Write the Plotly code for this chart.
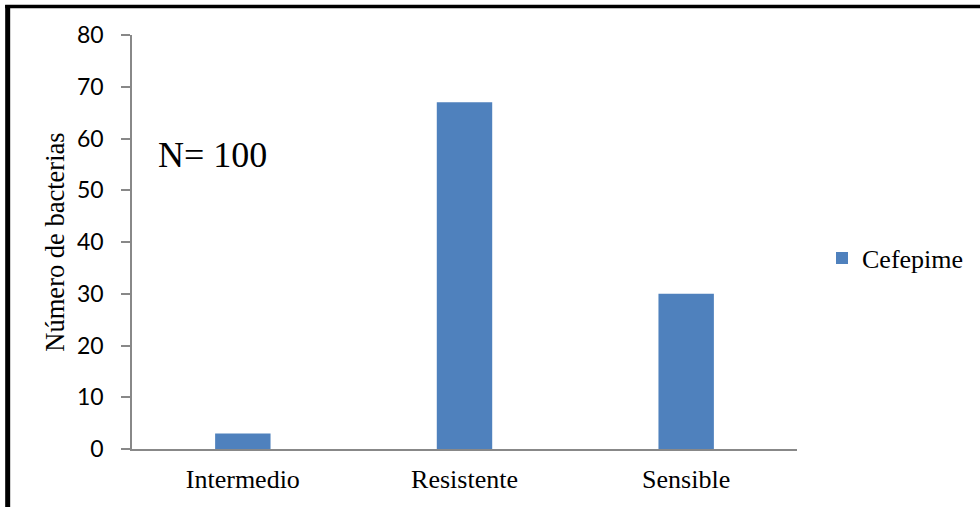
import plotly.graph_objects as go

# Susceptibility categories and bacteria counts for cefepime
categorias = ["Intermedio", "Resistente", "Sensible"]
cefepime = [3, 67, 30]
y_ticks = [0, 10, 20, 30, 40, 50, 60, 70, 80]

W, H = 980, 507
L, R, T, B = 132, 182, 35, 58
pw, ph = W - L - R, H - T - B


def px_x(x):
    return (x - L) / pw


def px_y(y):
    return (H - B - y) / ph


fig = go.Figure()
fig.add_trace(go.Bar(
    x=categorias,
    y=cefepime,
    name="Cefepime",
    marker=dict(color="#4F81BD", line=dict(width=0)),
))

axis_gray = "#888888"
fig.update_layout(
    width=W,
    height=H,
    margin=dict(l=L, r=R, t=T, b=B, pad=0),
    paper_bgcolor="white",
    plot_bgcolor="white",
    bargap=0.75,
    showlegend=True,
    legend=dict(
        x=px_x(822), y=px_y(258), xanchor="left", yanchor="middle",
        font=dict(family="Liberation Serif", size=26, color="black"),
        bgcolor="rgba(0,0,0,0)",
    ),
    xaxis=dict(
        showline=True, linecolor=axis_gray, linewidth=1.5,
        ticks="", showgrid=False, zeroline=False,
        ticklabelstandoff=6,
        tickfont=dict(family="Liberation Serif", size=26, color="black"),
    ),
    yaxis=dict(
        range=[0, 80], tickvals=y_ticks,
        showline=True, linecolor=axis_gray, linewidth=1.5,
        ticks="outside", ticklen=9, tickcolor=axis_gray, tickwidth=1.5,
        showgrid=False, zeroline=False,
        ticklabelstandoff=13,
        tickfont=dict(family="Lato", size=23, color="black"),
        title=dict(text="Número de bacterias", standoff=5,
                   font=dict(family="Liberation Serif", size=26.5, color="black")),
    ),
    annotations=[dict(
        text="N= 100", x=px_x(156), y=px_y(155), xref="paper", yref="paper",
        xanchor="left", yanchor="middle", showarrow=False,
        font=dict(family="Liberation Serif", size=36, color="black"),
    )],
    shapes=[
        # frame edges around the chart area
        dict(type="line", xref="paper", yref="paper",
             x0=px_x(7.5), x1=px_x(7.5), y0=px_y(5), y1=px_y(H + 20),
             line=dict(color="black", width=5)),
        dict(type="line", xref="paper", yref="paper",
             x0=px_x(5), x1=px_x(W + 20), y0=px_y(6.5), y1=px_y(6.5),
             line=dict(color="black", width=3.5)),
    ],
)

# x-axis baseline extends left to meet the y-axis tick at zero
fig.add_shape(type="line", xref="paper", yref="y",
              x0=px_x(123), x1=0, y0=0, y1=0,
              line=dict(color=axis_gray, width=1.5))

fig.write_html("out.html")
